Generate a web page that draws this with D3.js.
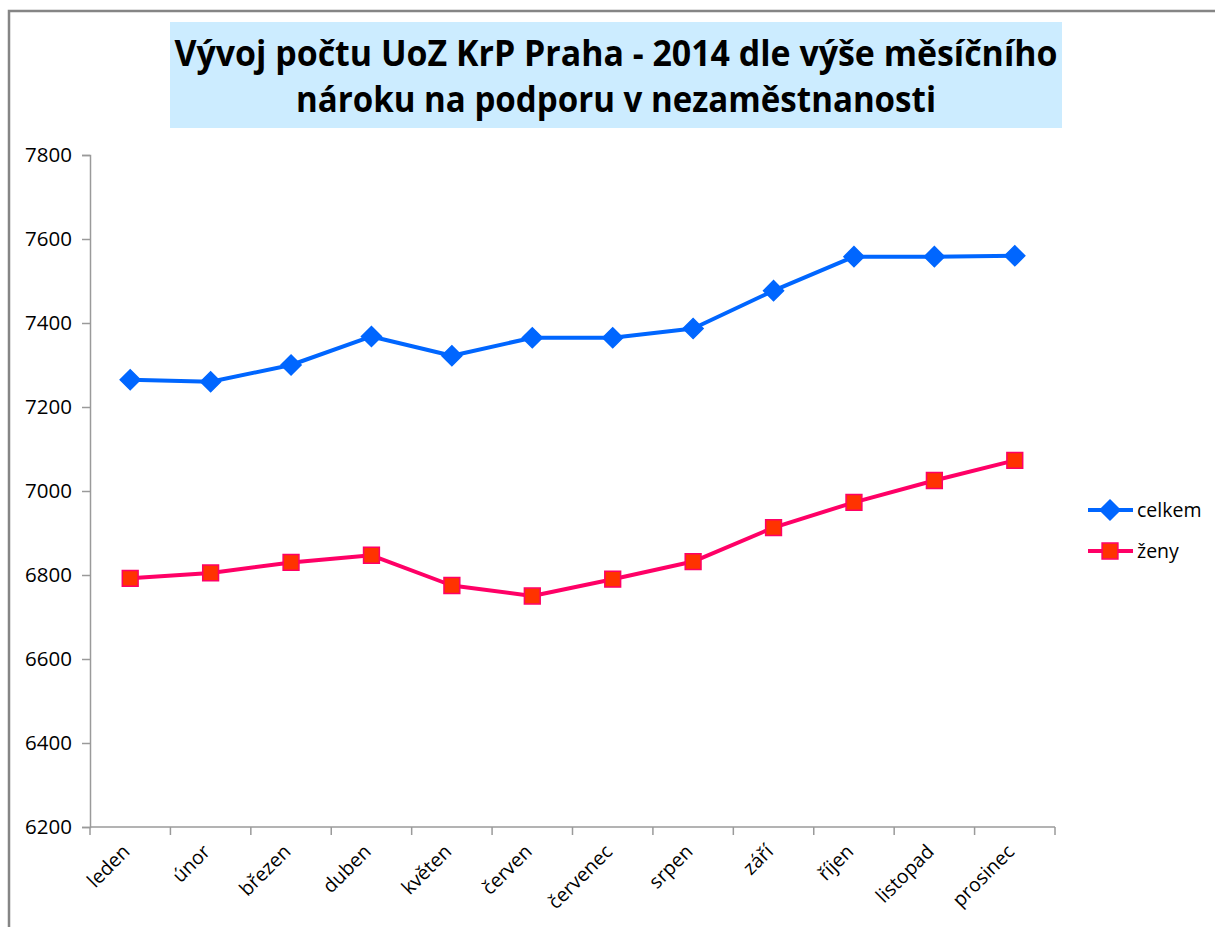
<!DOCTYPE html>
<html>
<head>
<meta charset="utf-8">
<script src="https://cdn.jsdelivr.net/npm/d3@7"></script>
<style>
  body { margin: 0; background: #fff; }
  svg { display: block; }
</style>
</head>
<body>
<div id="chart"></div>
<script>
var months = ["leden", "únor", "březen", "duben", "květen", "červen",
    "červenec", "srpen", "září", "říjen", "listopad", "prosinec"];
var celkem = [7265, 7260, 7300, 7368, 7322, 7365, 7365, 7387, 7477, 7558, 7558, 7560];
var zeny = [6792, 6805, 6830, 6847, 6775, 6750, 6790, 6832, 6913, 6973, 7025, 7073];
var yTicks = [6200, 6400, 6600, 6800, 7000, 7200, 7400, 7600, 7800];
var titleLines = ["Vývoj počtu UoZ KrP Praha - 2014 dle výše měsíčního",
    "nároku na podporu v nezaměstnanosti"];

var width = 1215, height = 927;
var plot = { left: 90, right: 1055, top: 155, bottom: 827 };
var font = "'Open Sans', 'DejaVu Sans', sans-serif";

var svg = d3.select("#chart").append("svg")
    .attr("width", width)
    .attr("height", height);

// outer frame (only top and left edges are visible in the picture)
svg.append("path")
    .attr("d", "M9,927 L9,11 L1215,11")
    .attr("fill", "none")
    .attr("stroke", "#858585")
    .attr("stroke-width", 2.5);

// title box
svg.append("rect")
    .attr("x", 170).attr("y", 22)
    .attr("width", 892).attr("height", 106)
    .attr("fill", "#ccecff");

var titleWidths = [883, 640];
svg.selectAll("text.title")
    .data(titleLines)
    .enter().append("text")
    .attr("class", "title")
    .attr("x", 616)
    .attr("y", function (d, i) { return 66 + i * 46; })
    .attr("text-anchor", "middle")
    .attr("font-family", font)
    .attr("font-weight", "bold")
    .attr("font-size", 36)
    .attr("textLength", function (d, i) { return titleWidths[i]; })
    .attr("lengthAdjust", "spacingAndGlyphs")
    .attr("fill", "#000")
    .text(function (d) { return d; });

var x = d3.scaleBand()
    .domain(months)
    .range([plot.left, plot.right]);

var y = d3.scaleLinear()
    .domain([6200, 7800])
    .range([plot.bottom, plot.top]);

// y axis
var yAxis = svg.append("g")
    .attr("transform", "translate(" + plot.left + ",0)")
    .call(d3.axisLeft(y).tickValues(yTicks).tickSize(8).tickPadding(10)
        .tickFormat(d3.format("d")));
yAxis.select(".domain").attr("stroke", "#9a9a9a").attr("stroke-width", 1.5);
yAxis.selectAll(".tick line").attr("stroke", "#9a9a9a").attr("stroke-width", 1.5);
yAxis.selectAll(".tick text")
    .attr("font-family", font)
    .attr("font-size", 20.5)
    .attr("fill", "#000");

// x axis: ticks sit on category boundaries
var boundaries = months.map(function (m) { return x(m); }).concat([plot.right]);
var xAxis = svg.append("g").attr("class", "x-axis");
xAxis.append("line")
    .attr("x1", plot.left).attr("x2", plot.right)
    .attr("y1", plot.bottom).attr("y2", plot.bottom)
    .attr("stroke", "#9a9a9a").attr("stroke-width", 1.5);
xAxis.selectAll("line.tick")
    .data(boundaries)
    .enter().append("line")
    .attr("class", "tick")
    .attr("x1", function (d) { return d; }).attr("x2", function (d) { return d; })
    .attr("y1", plot.bottom).attr("y2", plot.bottom + 8)
    .attr("stroke", "#9a9a9a").attr("stroke-width", 1.5);
xAxis.selectAll("text")
    .data(months)
    .enter().append("text")
    .attr("transform", function (d) {
        var cx = x(d) + x.bandwidth() / 2 - 4;
        return "translate(" + cx + "," + (plot.bottom + 21) + ") rotate(-45)";
    })
    .attr("text-anchor", "end")
    .attr("dy", "0.35em")
    .attr("font-family", font)
    .attr("font-size", 19.5)
    .attr("fill", "#000")
    .text(function (d) { return d; });

var cx = function (d, i) { return x(months[i]) + x.bandwidth() / 2; };
var line = d3.line()
    .x(function (d, i) { return cx(d, i); })
    .y(function (d) { return y(d); });

// diamonds are squares turned by 45 degrees
var series = [
    { name: "celkem", values: celkem, stroke: "#0066ff", fill: "#0066ff",
        size: 200, rotate: 45, markerStroke: "#0066ff" },
    { name: "ženy", values: zeny, stroke: "#ff0066", fill: "#ff3300",
        size: 250, rotate: 0, markerStroke: "#ff0066" }
];

series.forEach(function (s) {
    svg.append("path")
        .datum(s.values)
        .attr("fill", "none")
        .attr("stroke", s.stroke)
        .attr("stroke-width", 4)
        .attr("stroke-linejoin", "round")
        .attr("d", line);

    svg.append("g").selectAll("path")
        .data(s.values)
        .enter().append("path")
        .attr("transform", function (d, i) {
            return "translate(" + cx(d, i) + "," + y(d) + ") rotate(" + s.rotate + ")";
        })
        .attr("d", d3.symbol().type(d3.symbolSquare).size(s.size))
        .attr("fill", s.fill)
        .attr("stroke", s.markerStroke)
        .attr("stroke-width", 1.5);
});

// legend
var legend = svg.append("g")
    .selectAll("g")
    .data(series)
    .enter().append("g")
    .attr("transform", function (d, i) {
        return "translate(1088," + (510 + i * 41) + ")";
    });
legend.append("line")
    .attr("x1", 0).attr("x2", 45)
    .attr("stroke", function (d) { return d.stroke; })
    .attr("stroke-width", 4);
legend.append("path")
    .attr("transform", function (d) { return "translate(22,0) rotate(" + d.rotate + ")"; })
    .attr("d", function (d) { return d3.symbol().type(d3.symbolSquare).size(d.size)(); })
    .attr("fill", function (d) { return d.fill; })
    .attr("stroke", function (d) { return d.markerStroke; })
    .attr("stroke-width", 1.5);
legend.append("text")
    .attr("x", 49)
    .attr("dy", "0.35em")
    .attr("font-family", font)
    .attr("font-size", 19.5)
    .attr("fill", "#000")
    .text(function (d) { return d.name; });
</script>
</body>
</html>
